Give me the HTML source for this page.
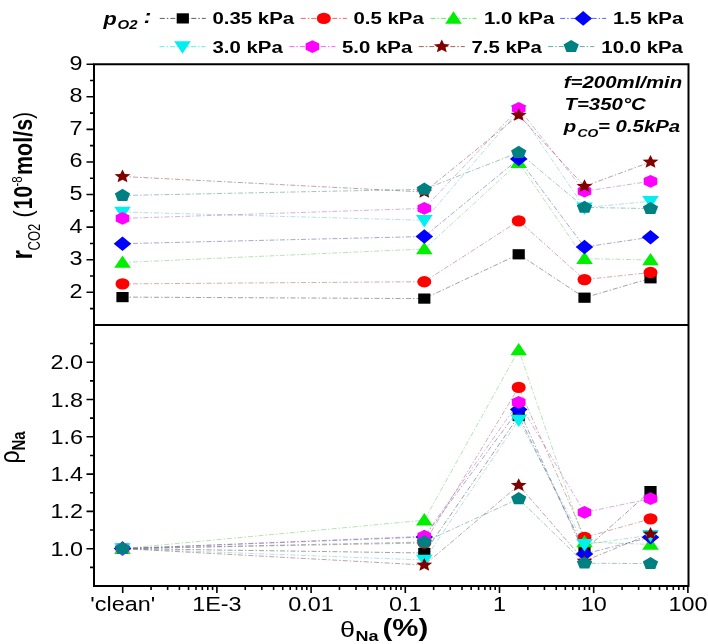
<!DOCTYPE html>
<html><head><meta charset="utf-8"><style>
html,body{margin:0;padding:0;background:#fff;width:708px;height:644px;overflow:hidden}
svg{display:block;will-change:transform;filter:blur(0.35px)}
text{font-family:"Liberation Sans",sans-serif;fill:#000}
</style></head><body>
<svg width="708" height="644" viewBox="0 0 708 644">
<rect width="708" height="644" fill="#fff"/>

<path d="M122.5 297.1 L424.3 298.6 L518.7 254.3 L584.5 297.7 L650.5 278.3" fill="none" stroke="#303030" stroke-width="0.75" stroke-dasharray="5 2 1.5 2" opacity="0.6"/>
<path d="M122.5 283.9 L424.3 281.7 L518.7 220.9 L584.5 279.6 L650.5 272.5" fill="none" stroke="#a04848" stroke-width="0.75" stroke-dasharray="5 2 1.5 2" opacity="0.6"/>
<path d="M122.5 262.5 L424.3 249 L518.7 162.6 L584.5 258.6 L650.5 260" fill="none" stroke="#58c058" stroke-width="0.75" stroke-dasharray="5 2 1.5 2" opacity="0.6"/>
<path d="M122.5 243.7 L424.3 236.5 L518.7 158.9 L584.5 247 L650.5 237.2" fill="none" stroke="#3a3a98" stroke-width="0.75" stroke-dasharray="5 2 1.5 2" opacity="0.6"/>
<path d="M122.5 212 L424.3 220.3 L518.7 110.6 L584.5 207.7 L650.5 201.2" fill="none" stroke="#58b8c0" stroke-width="0.75" stroke-dasharray="5 2 1.5 2" opacity="0.6"/>
<path d="M122.5 218.4 L424.3 208.4 L518.7 108.4 L584.5 191.2 L650.5 181.3" fill="none" stroke="#a050a8" stroke-width="0.75" stroke-dasharray="5 2 1.5 2" opacity="0.6"/>
<path d="M122.5 176.5 L424.3 192 L518.7 115.2 L584.5 186.3 L650.5 162" fill="none" stroke="#703030" stroke-width="0.75" stroke-dasharray="5 2 1.5 2" opacity="0.6"/>
<path d="M122.5 195.5 L424.3 189.3 L518.7 152.5 L584.5 207.4 L650.5 208.6" fill="none" stroke="#307878" stroke-width="0.75" stroke-dasharray="5 2 1.5 2" opacity="0.6"/>
<path d="M122.5 548.6 L424.3 553 L518.7 416 L584.5 550 L650.5 491.1" fill="none" stroke="#303030" stroke-width="0.75" stroke-dasharray="5 2 1.5 2" opacity="0.6"/>
<path d="M122.5 548.6 L424.3 543 L518.7 387.4 L584.5 537.4 L650.5 518.9" fill="none" stroke="#a04848" stroke-width="0.75" stroke-dasharray="5 2 1.5 2" opacity="0.6"/>
<path d="M122.5 548.6 L424.3 520.2 L518.7 350 L584.5 542 L650.5 544.4" fill="none" stroke="#58c058" stroke-width="0.75" stroke-dasharray="5 2 1.5 2" opacity="0.6"/>
<path d="M122.5 548.6 L424.3 537 L518.7 409.5 L584.5 554 L650.5 537.2" fill="none" stroke="#3a3a98" stroke-width="0.75" stroke-dasharray="5 2 1.5 2" opacity="0.6"/>
<path d="M122.5 548.6 L424.3 560 L518.7 420 L584.5 544.4 L650.5 535.2" fill="none" stroke="#58b8c0" stroke-width="0.75" stroke-dasharray="5 2 1.5 2" opacity="0.6"/>
<path d="M122.5 548.6 L424.3 536.3 L518.7 402.3 L584.5 512.4 L650.5 498.7" fill="none" stroke="#a050a8" stroke-width="0.75" stroke-dasharray="5 2 1.5 2" opacity="0.6"/>
<path d="M122.5 548.6 L424.3 565 L518.7 485.3 L584.5 561 L650.5 534" fill="none" stroke="#703030" stroke-width="0.75" stroke-dasharray="5 2 1.5 2" opacity="0.6"/>
<path d="M122.5 548.6 L424.3 542 L518.7 498.8 L584.5 563.2 L650.5 563.6" fill="none" stroke="#307878" stroke-width="0.75" stroke-dasharray="5 2 1.5 2" opacity="0.6"/>
<rect x="116.4" y="292" width="12.2" height="10.2" fill="#000000"/>
<rect x="418.2" y="293.5" width="12.2" height="10.2" fill="#000000"/>
<rect x="512.6" y="249.2" width="12.2" height="10.2" fill="#000000"/>
<rect x="578.4" y="292.6" width="12.2" height="10.2" fill="#000000"/>
<rect x="644.4" y="273.2" width="12.2" height="10.2" fill="#000000"/>
<ellipse cx="122.5" cy="283.9" rx="7" ry="5.7" fill="#ff0000"/>
<ellipse cx="424.3" cy="281.7" rx="7" ry="5.7" fill="#ff0000"/>
<ellipse cx="518.7" cy="220.9" rx="7" ry="5.7" fill="#ff0000"/>
<ellipse cx="584.5" cy="279.6" rx="7" ry="5.7" fill="#ff0000"/>
<ellipse cx="650.5" cy="272.5" rx="7" ry="5.7" fill="#ff0000"/>
<path d="M122.5 255.4L130.8 267.8L114.2 267.8Z" fill="#00ee00"/>
<path d="M424.3 241.9L432.6 254.3L416 254.3Z" fill="#00ee00"/>
<path d="M518.7 155.5L527 167.9L510.4 167.9Z" fill="#00ee00"/>
<path d="M584.5 251.5L592.8 263.9L576.2 263.9Z" fill="#00ee00"/>
<path d="M650.5 252.9L658.8 265.3L642.2 265.3Z" fill="#00ee00"/>
<path d="M122.5 236.4L131.3 243.7L122.5 251L113.7 243.7Z" fill="#0000ff"/>
<path d="M424.3 229.2L433.1 236.5L424.3 243.8L415.5 236.5Z" fill="#0000ff"/>
<path d="M518.7 151.6L527.5 158.9L518.7 166.2L509.9 158.9Z" fill="#0000ff"/>
<path d="M584.5 239.7L593.3 247L584.5 254.3L575.7 247Z" fill="#0000ff"/>
<path d="M650.5 229.9L659.3 237.2L650.5 244.5L641.7 237.2Z" fill="#0000ff"/>
<path d="M122.5 219.1L130.8 206.7L114.2 206.7Z" fill="#00f0f0"/>
<path d="M424.3 227.4L432.6 215L416 215Z" fill="#00f0f0"/>
<path d="M518.7 117.7L527 105.3L510.4 105.3Z" fill="#00f0f0"/>
<path d="M584.5 214.8L592.8 202.4L576.2 202.4Z" fill="#00f0f0"/>
<path d="M650.5 208.3L658.8 195.9L642.2 195.9Z" fill="#00f0f0"/>
<path d="M122.5 212L129.3 215.2L129.3 221.6L122.5 224.8L115.7 221.6L115.7 215.2Z" fill="#ff00ff"/>
<path d="M424.3 202L431.1 205.2L431.1 211.6L424.3 214.8L417.5 211.6L417.5 205.2Z" fill="#ff00ff"/>
<path d="M518.7 102L525.5 105.2L525.5 111.6L518.7 114.8L511.9 111.6L511.9 105.2Z" fill="#ff00ff"/>
<path d="M584.5 184.8L591.3 188L591.3 194.4L584.5 197.6L577.7 194.4L577.7 188Z" fill="#ff00ff"/>
<path d="M650.5 174.9L657.3 178.1L657.3 184.5L650.5 187.7L643.7 184.5L643.7 178.1Z" fill="#ff00ff"/>
<path d="M122.5 169.5L124.77 173.89L130.49 174.34L126.17 177.5L127.44 182.16L122.5 179.72L117.56 182.16L118.83 177.5L114.51 174.34L120.23 173.89Z" fill="#800000"/>
<path d="M424.3 185L426.57 189.39L432.29 189.84L427.97 193L429.24 197.66L424.3 195.22L419.36 197.66L420.63 193L416.31 189.84L422.03 189.39Z" fill="#800000"/>
<path d="M518.7 108.2L520.97 112.59L526.69 113.04L522.37 116.2L523.64 120.86L518.7 118.42L513.76 120.86L515.03 116.2L510.71 113.04L516.43 112.59Z" fill="#800000"/>
<path d="M584.5 179.3L586.77 183.69L592.49 184.14L588.17 187.3L589.44 191.96L584.5 189.52L579.56 191.96L580.83 187.3L576.51 184.14L582.23 183.69Z" fill="#800000"/>
<path d="M650.5 155L652.77 159.39L658.49 159.84L654.17 163L655.44 167.66L650.5 165.22L645.56 167.66L646.83 163L642.51 159.84L648.23 159.39Z" fill="#800000"/>
<path d="M122.5 188.8L130.15 193.43L127.23 200.92L117.77 200.92L114.85 193.43Z" fill="#008080"/>
<path d="M424.3 182.6L431.95 187.23L429.03 194.72L419.57 194.72L416.65 187.23Z" fill="#008080"/>
<path d="M518.7 145.8L526.35 150.43L523.43 157.92L513.97 157.92L511.05 150.43Z" fill="#008080"/>
<path d="M584.5 200.7L592.15 205.33L589.23 212.82L579.77 212.82L576.85 205.33Z" fill="#008080"/>
<path d="M650.5 201.9L658.15 206.53L655.23 214.02L645.77 214.02L642.85 206.53Z" fill="#008080"/>
<rect x="116.4" y="543.5" width="12.2" height="10.2" fill="#000000"/>
<rect x="418.2" y="547.9" width="12.2" height="10.2" fill="#000000"/>
<rect x="512.6" y="410.9" width="12.2" height="10.2" fill="#000000"/>
<rect x="578.4" y="544.9" width="12.2" height="10.2" fill="#000000"/>
<rect x="644.4" y="486" width="12.2" height="10.2" fill="#000000"/>
<ellipse cx="122.5" cy="548.6" rx="7" ry="5.7" fill="#ff0000"/>
<ellipse cx="424.3" cy="543" rx="7" ry="5.7" fill="#ff0000"/>
<ellipse cx="518.7" cy="387.4" rx="7" ry="5.7" fill="#ff0000"/>
<ellipse cx="584.5" cy="537.4" rx="7" ry="5.7" fill="#ff0000"/>
<ellipse cx="650.5" cy="518.9" rx="7" ry="5.7" fill="#ff0000"/>
<path d="M122.5 541.5L130.8 553.9L114.2 553.9Z" fill="#00ee00"/>
<path d="M424.3 513.1L432.6 525.5L416 525.5Z" fill="#00ee00"/>
<path d="M518.7 342.9L527 355.3L510.4 355.3Z" fill="#00ee00"/>
<path d="M584.5 534.9L592.8 547.3L576.2 547.3Z" fill="#00ee00"/>
<path d="M650.5 537.3L658.8 549.7L642.2 549.7Z" fill="#00ee00"/>
<path d="M122.5 541.3L131.3 548.6L122.5 555.9L113.7 548.6Z" fill="#0000ff"/>
<path d="M424.3 529.7L433.1 537L424.3 544.3L415.5 537Z" fill="#0000ff"/>
<path d="M518.7 402.2L527.5 409.5L518.7 416.8L509.9 409.5Z" fill="#0000ff"/>
<path d="M584.5 546.7L593.3 554L584.5 561.3L575.7 554Z" fill="#0000ff"/>
<path d="M650.5 529.9L659.3 537.2L650.5 544.5L641.7 537.2Z" fill="#0000ff"/>
<path d="M122.5 555.7L130.8 543.3L114.2 543.3Z" fill="#00f0f0"/>
<path d="M424.3 567.1L432.6 554.7L416 554.7Z" fill="#00f0f0"/>
<path d="M518.7 427.1L527 414.7L510.4 414.7Z" fill="#00f0f0"/>
<path d="M584.5 551.5L592.8 539.1L576.2 539.1Z" fill="#00f0f0"/>
<path d="M650.5 542.3L658.8 529.9L642.2 529.9Z" fill="#00f0f0"/>
<path d="M122.5 542.2L129.3 545.4L129.3 551.8L122.5 555L115.7 551.8L115.7 545.4Z" fill="#ff00ff"/>
<path d="M424.3 529.9L431.1 533.1L431.1 539.5L424.3 542.7L417.5 539.5L417.5 533.1Z" fill="#ff00ff"/>
<path d="M518.7 395.9L525.5 399.1L525.5 405.5L518.7 408.7L511.9 405.5L511.9 399.1Z" fill="#ff00ff"/>
<path d="M584.5 506L591.3 509.2L591.3 515.6L584.5 518.8L577.7 515.6L577.7 509.2Z" fill="#ff00ff"/>
<path d="M650.5 492.3L657.3 495.5L657.3 501.9L650.5 505.1L643.7 501.9L643.7 495.5Z" fill="#ff00ff"/>
<path d="M122.5 541.6L124.77 545.99L130.49 546.44L126.17 549.6L127.44 554.26L122.5 551.82L117.56 554.26L118.83 549.6L114.51 546.44L120.23 545.99Z" fill="#800000"/>
<path d="M424.3 558L426.57 562.39L432.29 562.84L427.97 566L429.24 570.66L424.3 568.22L419.36 570.66L420.63 566L416.31 562.84L422.03 562.39Z" fill="#800000"/>
<path d="M518.7 478.3L520.97 482.69L526.69 483.14L522.37 486.3L523.64 490.96L518.7 488.52L513.76 490.96L515.03 486.3L510.71 483.14L516.43 482.69Z" fill="#800000"/>
<path d="M584.5 554L586.77 558.39L592.49 558.84L588.17 562L589.44 566.66L584.5 564.22L579.56 566.66L580.83 562L576.51 558.84L582.23 558.39Z" fill="#800000"/>
<path d="M650.5 527L652.77 531.39L658.49 531.84L654.17 535L655.44 539.66L650.5 537.22L645.56 539.66L646.83 535L642.51 531.84L648.23 531.39Z" fill="#800000"/>
<path d="M122.5 541.9L130.15 546.53L127.23 554.02L117.77 554.02L114.85 546.53Z" fill="#008080"/>
<path d="M424.3 535.3L431.95 539.93L429.03 547.42L419.57 547.42L416.65 539.93Z" fill="#008080"/>
<path d="M518.7 492.1L526.35 496.73L523.43 504.22L513.97 504.22L511.05 496.73Z" fill="#008080"/>
<path d="M584.5 556.5L592.15 561.13L589.23 568.62L579.77 568.62L576.85 561.13Z" fill="#008080"/>
<path d="M650.5 556.9L658.15 561.53L655.23 569.02L645.77 569.02L642.85 561.53Z" fill="#008080"/>
<g stroke="#000" stroke-width="2" fill="none">
<path d="M94.0 64.2H688.5V586.0H94.0Z"/>
<path d="M94.0 324.9H688.5"/>
</g>
<path d="M94.0 292.31H86.5 M94.0 259.72H86.5 M94.0 227.14H86.5 M94.0 194.55H86.5 M94.0 161.96H86.5 M94.0 129.38H86.5 M94.0 96.79H86.5 M94.0 64.2H86.5 M94.0 308.61H90 M94.0 276.02H90 M94.0 243.43H90 M94.0 210.84H90 M94.0 178.26H90 M94.0 145.67H90 M94.0 113.08H90 M94.0 80.49H90 M94.0 548.7H86.5 M94.0 511.4H86.5 M94.0 474.1H86.5 M94.0 436.8H86.5 M94.0 399.5H86.5 M94.0 362.2H86.5 M94.0 567.35H90 M94.0 530.05H90 M94.0 492.75H90 M94.0 455.45H90 M94.0 418.15H90 M94.0 380.85H90 M94.0 343.55H90 M122.7 586.0V593 M216.9 586.0V593 M311.1 586.0V593 M405.3 586.0V593 M499.5 586.0V593 M593.7 586.0V593 M687.9 586.0V593 M151.06 586.0V590 M167.64 586.0V590 M179.41 586.0V590 M188.54 586.0V590 M196 586.0V590 M202.31 586.0V590 M207.77 586.0V590 M212.59 586.0V590 M245.26 586.0V590 M261.84 586.0V590 M273.61 586.0V590 M282.74 586.0V590 M290.2 586.0V590 M296.51 586.0V590 M301.97 586.0V590 M306.79 586.0V590 M339.46 586.0V590 M356.04 586.0V590 M367.81 586.0V590 M376.94 586.0V590 M384.4 586.0V590 M390.71 586.0V590 M396.17 586.0V590 M400.99 586.0V590 M433.66 586.0V590 M450.24 586.0V590 M462.01 586.0V590 M471.14 586.0V590 M478.6 586.0V590 M484.91 586.0V590 M490.37 586.0V590 M495.19 586.0V590 M527.86 586.0V590 M544.44 586.0V590 M556.21 586.0V590 M565.34 586.0V590 M572.8 586.0V590 M579.11 586.0V590 M584.57 586.0V590 M589.39 586.0V590 M622.06 586.0V590 M638.64 586.0V590 M650.41 586.0V590 M659.54 586.0V590 M667 586.0V590 M673.31 586.0V590 M678.77 586.0V590 M683.59 586.0V590" stroke="#000" stroke-width="1.6" fill="none"/>
<text transform="translate(82.5,297.81) scale(1.2,1)" font-size="19.5" font-weight="normal" font-style="normal" text-anchor="end">2</text>
<text transform="translate(82.5,265.22) scale(1.2,1)" font-size="19.5" font-weight="normal" font-style="normal" text-anchor="end">3</text>
<text transform="translate(82.5,232.64) scale(1.2,1)" font-size="19.5" font-weight="normal" font-style="normal" text-anchor="end">4</text>
<text transform="translate(82.5,200.05) scale(1.2,1)" font-size="19.5" font-weight="normal" font-style="normal" text-anchor="end">5</text>
<text transform="translate(82.5,167.46) scale(1.2,1)" font-size="19.5" font-weight="normal" font-style="normal" text-anchor="end">6</text>
<text transform="translate(82.5,134.88) scale(1.2,1)" font-size="19.5" font-weight="normal" font-style="normal" text-anchor="end">7</text>
<text transform="translate(82.5,102.29) scale(1.2,1)" font-size="19.5" font-weight="normal" font-style="normal" text-anchor="end">8</text>
<text transform="translate(82.5,69.7) scale(1.2,1)" font-size="19.5" font-weight="normal" font-style="normal" text-anchor="end">9</text>
<text transform="translate(83,555.7) scale(1.2,1)" font-size="19.5" font-weight="normal" font-style="normal" text-anchor="end">1.0</text>
<text transform="translate(83,518.4) scale(1.2,1)" font-size="19.5" font-weight="normal" font-style="normal" text-anchor="end">1.2</text>
<text transform="translate(83,481.1) scale(1.2,1)" font-size="19.5" font-weight="normal" font-style="normal" text-anchor="end">1.4</text>
<text transform="translate(83,443.8) scale(1.2,1)" font-size="19.5" font-weight="normal" font-style="normal" text-anchor="end">1.6</text>
<text transform="translate(83,406.5) scale(1.2,1)" font-size="19.5" font-weight="normal" font-style="normal" text-anchor="end">1.8</text>
<text transform="translate(83,369.2) scale(1.2,1)" font-size="19.5" font-weight="normal" font-style="normal" text-anchor="end">2.0</text>
<text transform="translate(122.7,611) scale(1.2,1)" font-size="19.5" font-weight="normal" font-style="normal" text-anchor="middle">'clean'</text>
<text transform="translate(216.9,611) scale(1.2,1)" font-size="19.5" font-weight="normal" font-style="normal" text-anchor="middle">1E-3</text>
<text transform="translate(311.1,611) scale(1.2,1)" font-size="19.5" font-weight="normal" font-style="normal" text-anchor="middle">0.01</text>
<text transform="translate(405.3,611) scale(1.2,1)" font-size="19.5" font-weight="normal" font-style="normal" text-anchor="middle">0.1</text>
<text transform="translate(499.5,611) scale(1.2,1)" font-size="19.5" font-weight="normal" font-style="normal" text-anchor="middle">1</text>
<text transform="translate(593.7,611) scale(1.2,1)" font-size="19.5" font-weight="normal" font-style="normal" text-anchor="middle">10</text>
<text transform="translate(687.9,611) scale(1.2,1)" font-size="19.5" font-weight="normal" font-style="normal" text-anchor="middle">100</text>
<path d="M159.8 18.4H205.8" stroke="#000000" stroke-width="0.9" stroke-dasharray="5 2 1.5 2" opacity="0.7"/>
<rect x="176.7" y="13.3" width="12.2" height="10.2" fill="#000000"/>
<text transform="translate(212.5,24.4) scale(1.2,1)" font-size="17" font-weight="bold" font-style="normal" text-anchor="start">0.35 kPa</text>
<path d="M300.8 18.4H346.8" stroke="#ff0000" stroke-width="0.9" stroke-dasharray="5 2 1.5 2" opacity="0.7"/>
<ellipse cx="323.8" cy="18.4" rx="7" ry="5.7" fill="#ff0000"/>
<text transform="translate(353.5,24.4) scale(1.2,1)" font-size="17" font-weight="bold" font-style="normal" text-anchor="start">0.5 kPa</text>
<path d="M430.5 18.4H476.5" stroke="#00ee00" stroke-width="0.9" stroke-dasharray="5 2 1.5 2" opacity="0.7"/>
<path d="M453.5 11.3L461.8 23.7L445.2 23.7Z" fill="#00ee00"/>
<text transform="translate(484,24.4) scale(1.2,1)" font-size="17" font-weight="bold" font-style="normal" text-anchor="start">1.0 kPa</text>
<path d="M560.2 18.4H606.2" stroke="#0000ff" stroke-width="0.9" stroke-dasharray="5 2 1.5 2" opacity="0.7"/>
<path d="M583.2 11.1L592 18.4L583.2 25.7L574.4 18.4Z" fill="#0000ff"/>
<text transform="translate(613,24.4) scale(1.2,1)" font-size="17" font-weight="bold" font-style="normal" text-anchor="start">1.5 kPa</text>
<path d="M159.5 46.6H205.5" stroke="#00f0f0" stroke-width="0.9" stroke-dasharray="5 2 1.5 2" opacity="0.7"/>
<path d="M182.5 53.7L190.8 41.3L174.2 41.3Z" fill="#00f0f0"/>
<text transform="translate(212.5,52.6) scale(1.2,1)" font-size="17" font-weight="bold" font-style="normal" text-anchor="start">3.0 kPa</text>
<path d="M289.4 46.6H335.4" stroke="#ff00ff" stroke-width="0.9" stroke-dasharray="5 2 1.5 2" opacity="0.7"/>
<path d="M312.4 40.2L319.2 43.4L319.2 49.8L312.4 53L305.6 49.8L305.6 43.4Z" fill="#ff00ff"/>
<text transform="translate(342,52.6) scale(1.2,1)" font-size="17" font-weight="bold" font-style="normal" text-anchor="start">5.0 kPa</text>
<path d="M418.8 46.6H464.8" stroke="#800000" stroke-width="0.9" stroke-dasharray="5 2 1.5 2" opacity="0.7"/>
<path d="M441.8 39.6L444.07 43.99L449.79 44.44L445.47 47.6L446.74 52.26L441.8 49.82L436.86 52.26L438.13 47.6L433.81 44.44L439.53 43.99Z" fill="#800000"/>
<text transform="translate(471.5,52.6) scale(1.2,1)" font-size="17" font-weight="bold" font-style="normal" text-anchor="start">7.5 kPa</text>
<path d="M548.2 46.6H594.2" stroke="#008080" stroke-width="0.9" stroke-dasharray="5 2 1.5 2" opacity="0.7"/>
<path d="M571.2 39.9L578.85 44.53L575.93 52.02L566.47 52.02L563.55 44.53Z" fill="#008080"/>
<text transform="translate(601.3,52.6) scale(1.2,1)" font-size="17" font-weight="bold" font-style="normal" text-anchor="start">10.0 kPa</text>
<text transform="translate(103.5,24.5) scale(1.2,1)" font-size="18" font-weight="bold" font-style="italic" text-anchor="start">p</text>
<text transform="translate(117.5,28.8) scale(1.2,1)" font-size="12.5" font-weight="bold" font-style="italic" text-anchor="start">O2</text>
<text transform="translate(143.8,23.2) scale(1.2,1)" font-size="19" font-weight="bold" font-style="italic" text-anchor="start">:</text>
<text transform="translate(563.8,87.6) scale(1.2,1)" font-size="17" font-weight="bold" font-style="italic" text-anchor="start">f=200ml/min</text>
<text transform="translate(564.5,110) scale(1.2,1)" font-size="17" font-weight="bold" font-style="italic" text-anchor="start">T=350°C</text>
<text transform="translate(563.8,132.2) scale(1.2,1)" font-size="17" font-weight="bold" font-style="italic" text-anchor="start">p</text>
<text transform="translate(577.5,137) scale(1.2,1)" font-size="11.5" font-weight="bold" font-style="italic" text-anchor="start">CO</text>
<text transform="translate(598,132.2) scale(1.2,1)" font-size="17" font-weight="bold" font-style="italic" text-anchor="start">= 0.5kPa</text>
<text transform="translate(32.3,259.5) rotate(-90) scale(1,1.2)" font-size="24" font-weight="bold" font-style="normal">r</text>
<text transform="translate(40,250.5) rotate(-90) scale(1,1.2)" font-size="13" font-weight="normal" font-style="normal">CO2</text>
<text transform="translate(32.3,217.6) rotate(-90) scale(1,1.2)" font-size="21.5" font-weight="normal" font-style="normal">(</text>
<text transform="translate(32.3,209.3) rotate(-90) scale(1,1.2)" font-size="21" font-weight="bold" font-style="normal">10</text>
<text transform="translate(21.5,186.5) rotate(-90) scale(1,1.2)" font-size="11.5" font-weight="normal" font-style="normal">-8</text>
<text transform="translate(32.3,175) rotate(-90) scale(1,1.2)" font-size="21.5" font-weight="bold" font-style="normal">mol/s</text>
<text transform="translate(32.3,119) rotate(-90) scale(1,1.2)" font-size="21.5" font-weight="normal" font-style="normal">)</text>
<text transform="translate(19,463.5) rotate(-90) scale(1,1.2)" font-size="23" font-weight="normal" font-style="normal">ρ</text>
<text transform="translate(24.5,450.5) rotate(-90) scale(1,1.2)" font-size="15" font-weight="bold" font-style="normal">Na</text>
<text transform="translate(340,637) scale(1.2,1)" font-size="22.5" font-weight="normal" font-style="normal" text-anchor="start">θ</text>
<text transform="translate(355.5,641) scale(1.2,1)" font-size="15" font-weight="bold" font-style="normal" text-anchor="start">Na</text>
<text transform="translate(382.5,635.5) scale(1.2,1)" font-size="24.5" font-weight="bold" font-style="normal" text-anchor="start">(%)</text>
</svg></body></html>
